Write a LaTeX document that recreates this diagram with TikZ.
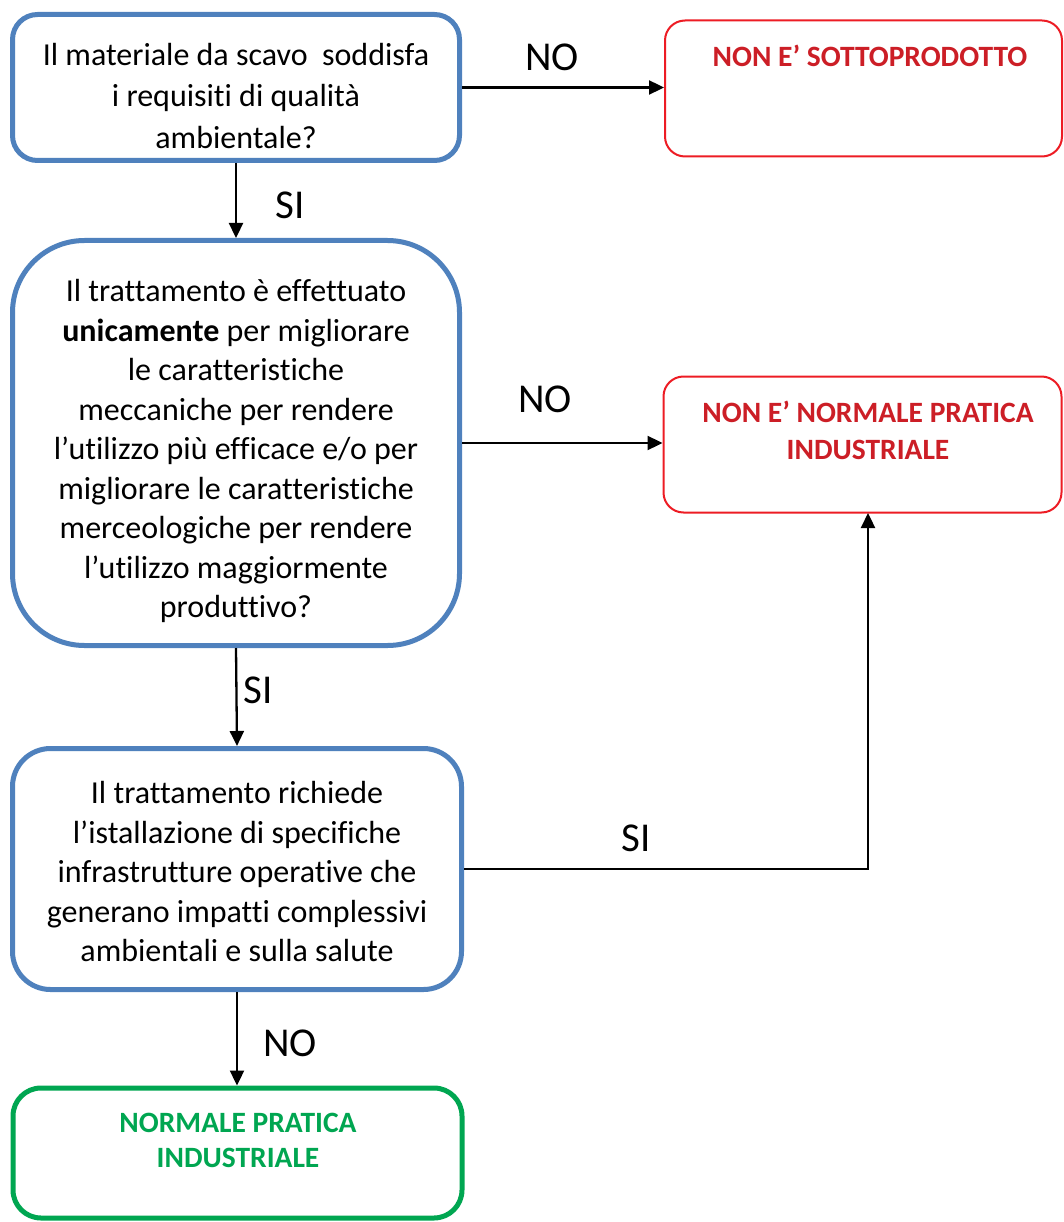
\documentclass[tikz,border=0pt]{standalone}
\usepackage{fontspec}
\setmainfont[Ligatures=NoCommon]{Carlito}
\usetikzlibrary{arrows.meta}
\definecolor{bblue}{RGB}{79,129,189}
\definecolor{rred}{RGB}{237,28,36}
\definecolor{rtext}{RGB}{204,30,38}
\definecolor{ggreen}{RGB}{0,166,81}
\begin{document}
\begin{tikzpicture}[x=1pt,y=-1pt,
  bluebox/.style={draw=bblue,line width=5pt,fill=white,inner sep=0pt},
  redbox/.style={draw=rred,line width=2pt,fill=white,inner sep=0pt,rounded corners=20pt},
  greenbox/.style={draw=ggreen,line width=5pt,fill=white,inner sep=0pt,rounded corners=28pt},
  qtext/.style={align=center,inner sep=0pt,font=\fontsize{32}{39.5}\selectfont},
  rtxt/.style={align=center,inner sep=0pt,text=rtext,font=\fontsize{29.5}{37}\selectfont\bfseries},
  gtxt/.style={align=center,inner sep=0pt,text=ggreen,font=\fontsize{29.5}{35.5}\selectfont\bfseries},
  lbl/.style={inner sep=0pt,font=\fontsize{41}{44}\selectfont},
  arr/.style={draw=black,line width=2.3pt,-{Triangle[length=15pt,width=14pt]}}
]
\useasboundingbox (0,0) rectangle (1064,1222);

% blue question boxes
\node[bluebox,rounded corners=25pt,minimum width=447pt,minimum height=146pt] (b1) at (236,87.5) {};
\node[qtext,font=\fontsize{32}{41.5}\selectfont] (t1) at (236,96) {Il materiale da scavo\ \ soddisfa\\i requisiti di qualità\\ambientale?};

\node[bluebox,rounded corners=72pt,minimum width=447pt,minimum height=405pt] (b2) at (236,443) {};
\node[qtext] (t2) at (236,451) {Il trattamento è effettuato\\\textbf{unicamente} per migliorare\\le caratteristiche\\meccaniche per rendere\\l’utilizzo più efficace e/o per\\migliorare le caratteristiche\\merceologiche per rendere\\l’utilizzo maggiormente\\produttivo?};

\node[bluebox,rounded corners=38pt,minimum width=449pt,minimum height=241pt] (b3) at (237,869) {};
\node[qtext] (t3) at (237,871.5) {Il trattamento richiede\\l’istallazione di specifiche\\infrastrutture operative che\\generano impatti complessivi\\ambientali e sulla salute};

% outcome boxes
\node[redbox,minimum width=397pt,minimum height=136pt] (r1) at (863.5,88.5) {};
\node[rtxt] (rt1) at (870,56) {NON E’ SOTTOPRODOTTO};

\node[redbox,minimum width=398pt,minimum height=136pt] (r2) at (862.5,444.5) {};
\node[rtxt] (rt2) at (868,430) {NON E’ NORMALE PRATICA\\INDUSTRIALE};

\node[greenbox,minimum width=449pt,minimum height=130pt] (g1) at (237.5,1153) {};
\node[gtxt] (gt1) at (238,1140.5) {NORMALE PRATICA\\INDUSTRIALE};

% connectors
\draw[arr] (b1.east) -- (b1.east -| r1.west);
\draw[arr] (b1.south) -- (b2.north);
\draw[arr] (b2.east) -- (b2.east -| r2.west);
\draw[arr] (b2.south) -- (b3.north);
\coordinate (c3) at (868,513);
\draw[arr] (b3.east) -| (c3);
\draw[arr] (b3.south) -- (b3.south |- g1.north);

% labels
\node[lbl] (l1) at (552,57) {NO};
\node[lbl] (l2) at (290,205) {SI};
\node[lbl] (l3) at (545,399) {NO};
\node[lbl] (l4) at (258,690) {SI};
\node[lbl] (l5) at (636,838) {SI};
\node[lbl] (l6) at (290,1043) {NO};
\end{tikzpicture}
\end{document}
